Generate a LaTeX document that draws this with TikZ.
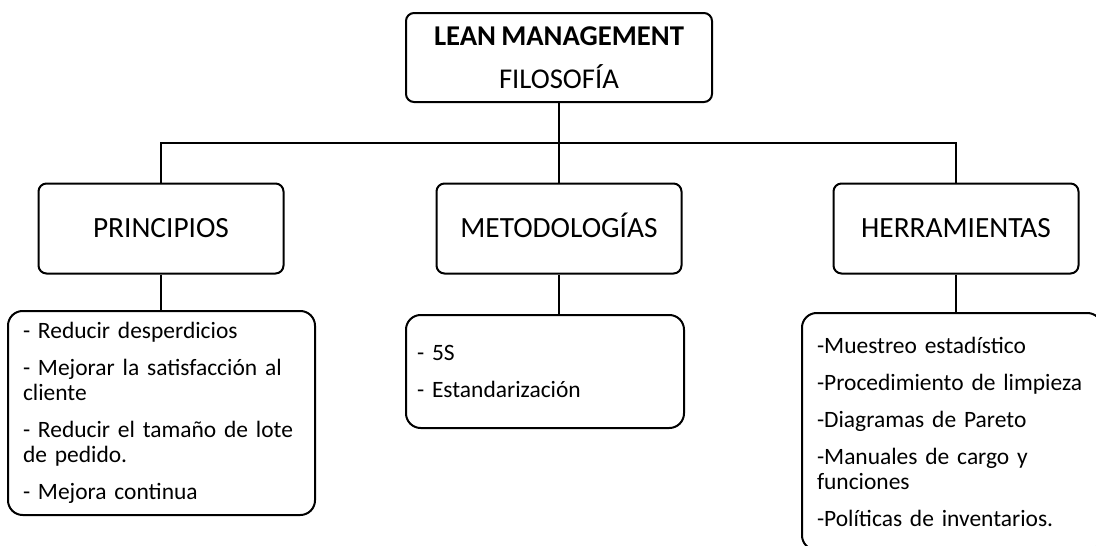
\documentclass[tikz,border=0pt]{standalone}
\usepackage{fontspec}
\setmainfont{Carlito}[WordSpace=0.8]
\usetikzlibrary{positioning}
\tikzset{
  % Title box at the top
  head/.style={
    rectangle, rounded corners=6pt,
    draw=black, line width=1.5pt,
    minimum width=229.5pt, minimum height=66.75pt,
    align=center, font=\fontsize{21.5}{32}\selectfont
  },
  % Category box
  cat/.style={
    rectangle, rounded corners=6pt,
    draw=black, line width=1.5pt,
    minimum width=183.75pt, minimum height=67.5pt,
    text height=14.2pt, text depth=0pt,
    align=center, font=\fontsize{22}{26}\selectfont
  },
  % List box under a category
  lst/.style={
    rectangle, rounded corners=11pt,
    draw=black, line width=1.5pt,
    inner xsep=11.25pt, inner ysep=0pt,
    align=left, font=\fontsize{17.6}{18.75}\selectfont
  },
  % Connector
  link/.style={line width=1.5pt, color=black}
}

\begin{document}
\begin{tikzpicture}[x=0.75pt, y=-0.75pt]

  \useasboundingbox (0,0) rectangle (1096,546);
  \clip (0,0) rectangle (1096,546);

  % Top
  \node[head] (lean) at (559,57.5) {\textbf{LEAN MANAGEMENT}\\FILOSOFÍA};

  % Categories
  \node[cat] (prin) at (161,228.5) {PRINCIPIOS};
  \node[cat] (met) at (559,228.5) {METODOLOGÍAS};
  \node[cat] (her) at (956,228.5) {HERRAMIENTAS};

  % Lists
  \node[lst, text width=207.75pt, minimum width=230.25pt, minimum height=153pt] (prinlist) at (161.5,413) {
    - Reducir desperdicios\\[9pt]
    - Mejorar la satisfacción al\\
    cliente\\[9pt]
    - Reducir el tamaño de lote\\
    de pedido.\\[9pt]
    - Mejora continua
  };
  \node[lst, text width=192pt, inner xsep=8.25pt, minimum width=208.5pt, minimum height=84.75pt] (metlist) at (545,371.5) {
    - 5S\\[9pt]
    - Estandarización
  };
  \node[lst, text width=202.5pt, minimum width=225pt, minimum height=177.75pt] (herlist) at (952,431.5) {
    -Muestreo estadístico\\[9pt]
    -Procedimiento de limpieza\\[9pt]
    -Diagramas de Pareto\\[9pt]
    -Manuales de cargo y\\
    funciones\\[9pt]
    -Políticas de inventarios.
  };

  % Tree lines
  \coordinate (bus) at (559,143);
  \draw[link] (lean.south) -- (met.north);
  \draw[link] (prin.north) |- (bus) -| (her.north);
  \draw[link] (prin.south) -- (prin.south |- prinlist.north);
  \draw[link] (met.south) -- (met.south |- metlist.north);
  \draw[link] (her.south) -- (her.south |- herlist.north);

\end{tikzpicture}
\end{document}
